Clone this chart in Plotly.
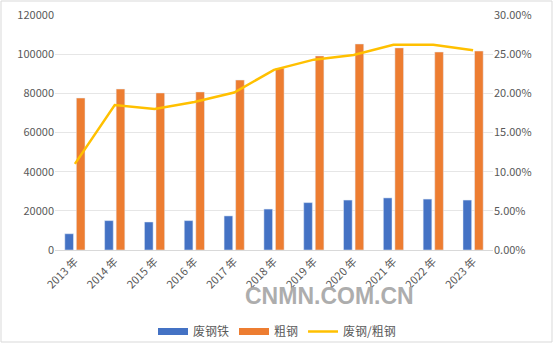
import plotly.graph_objects as go

years = ["2013 年", "2014 年", "2015 年", "2016 年", "2017 年", "2018 年",
         "2019 年", "2020 年", "2021 年", "2022 年", "2023 年"]
scrap = [8300, 15000, 14300, 15000, 17400, 20900, 24200, 25500, 26600, 26000, 25500]
crude = [77600, 82200, 80200, 80700, 86800, 92800, 99100, 105200, 103200, 101100, 101600]
ratio = [11.0, 18.5, 18.0, 18.9, 20.1, 23.0, 24.3, 24.9, 26.2, 26.2, 25.5]

font = "Noto Sans CJK SC, Liberation Sans, sans-serif"
BLUE, ORANGE, GOLD = "#4472C4", "#ED7D31", "#FFC000"

L, R, T, B = 55, 62, 15, 95
PW, PH = 555 - L - R, 345 - T - B

fig = go.Figure()
fig.add_trace(go.Bar(x=years, y=scrap, name="废钢铁", marker_color=BLUE, showlegend=False))
fig.add_trace(go.Bar(x=years, y=crude, name="粗钢", marker_color=ORANGE, showlegend=False))
fig.add_trace(go.Scatter(x=years, y=ratio, name="废钢/粗钢", yaxis="y2", mode="lines",
                         line=dict(color=GOLD, width=2.5), showlegend=False))
# legend entries (wide swatches like the reference)
fig.add_trace(go.Scatter(x=[None], y=[None], mode="lines", name="废钢铁",
                         line=dict(color=BLUE, width=7)))
fig.add_trace(go.Scatter(x=[None], y=[None], mode="lines", name="粗钢",
                         line=dict(color=ORANGE, width=7)))
fig.add_trace(go.Scatter(x=[None], y=[None], mode="lines", name="废钢/粗钢",
                         line=dict(color=GOLD, width=2.5)))

fig.update_layout(
    width=555, height=345,
    margin=dict(l=L, r=R, t=T, b=B, autoexpand=False),
    paper_bgcolor="white", plot_bgcolor="white",
    font=dict(family=font, size=11, color="#595959"),
    barmode="group", bargap=0.42, bargroupgap=0.25,
    xaxis=dict(tickangle=-45, showgrid=False, showline=True, linecolor="#D9D9D9",
               ticks="", automargin=False, tickfont=dict(size=11, color="#595959")),
    yaxis=dict(range=[0, 120000], dtick=20000, showgrid=True, gridcolor="#E6E6E6",
               zeroline=False, ticks="", tickformat="d", automargin=False,
               tickfont=dict(size=11, color="#595959")),
    yaxis2=dict(range=[0, 30], dtick=5, overlaying="y", side="right", showgrid=False,
                zeroline=False, ticksuffix="%", tickformat=".2f", automargin=False,
                tickfont=dict(size=11, color="#595959")),
    legend=dict(orientation="h", x=(277 - L) / PW, xanchor="center",
                y=(345 - B - 317) / PH, yanchor="top", itemwidth=30,
                font=dict(size=12, color="#595959"), tracegroupgap=0,
                bgcolor="rgba(0,0,0,0)"),
)

fig.add_annotation(text="<b>CNMN.COM.CN</b>", xref="paper", yref="paper",
                   x=(416 - L) / PW, y=(345 - B - 311) / PH, showarrow=False,
                   font=dict(family="Liberation Sans, Arial, sans-serif", size=23, color="#ADADAD"))

fig.add_shape(type="rect", xref="paper", yref="paper",
              x0=(1 - L) / PW, x1=(552 - L) / PW,
              y0=(345 - B - 342) / PH, y1=(345 - B - 1) / PH,
              line=dict(color="#D9D9D9", width=1), layer="below")

fig.write_html("out.html")
